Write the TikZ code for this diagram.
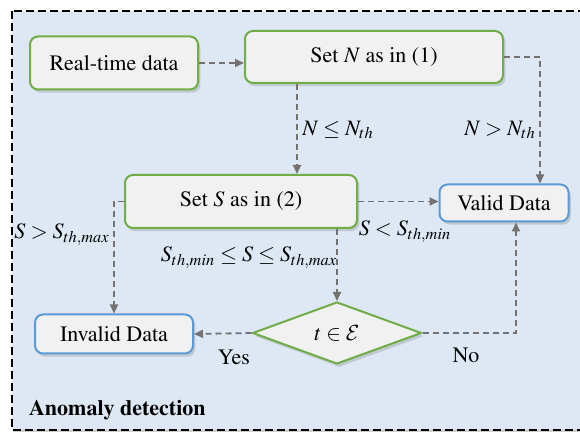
\documentclass[tikz,border=0pt]{standalone}
\usepackage[T1]{fontenc}
\usepackage{mathptmx}
\DeclareMathAlphabet{\mathcal}{OMS}{cmsy}{m}{n}
\usetikzlibrary{shapes.geometric,shadows,arrows.meta}
\definecolor{bgblue}{RGB}{221,232,244}
\definecolor{boxfill}{RGB}{241,241,241}
\definecolor{boxgreen}{RGB}{112,173,71}
\definecolor{boxblue}{RGB}{91,155,213}
\definecolor{flowgray}{RGB}{118,113,113}

\begin{document}
\begin{tikzpicture}[x=0.5pt,y=-0.5pt,
  font=\fontsize{11}{13}\selectfont,
  box/.style={draw=boxgreen, fill=boxfill, line width=1pt, rounded corners=4pt,
    drop shadow={opacity=0.3,shadow xshift=1.2pt,shadow yshift=-1.6pt}},
  databox/.style={box, draw=boxblue},
  flow/.style={draw=flowgray, line width=0.9pt, dash pattern=on 3pt off 2pt,
    -{Triangle[length=4.5pt,width=4pt]}}]
\useasboundingbox (0,0) rectangle (580,433);
\draw [fill=bgblue, line width=0.7pt, dash pattern=on 4pt off 2pt,
  drop shadow={opacity=0.4,shadow xshift=0.6pt,shadow yshift=-1.2pt}] (12,11) rectangle (600,430);

\node [box, minimum width=84pt, minimum height=26.5pt] (rt) at (114,63) {Real-time data};
\node [box, minimum width=129pt, minimum height=26pt] (setn) at (374,57) {Set $N$ as in (1)};
\node [box, minimum width=116pt, minimum height=26.5pt] (sets) at (241,201.5) {Set $S$ as in (2)};
\node [databox, minimum width=64.5pt, minimum height=18.5pt] (valid) at (504,203) {Valid Data};
\node [databox, minimum width=79pt, minimum height=19.5pt] (invalid) at (114,334) {Invalid Data};
\node [box, diamond, rounded corners=0pt, minimum width=84.5pt, minimum height=31pt, inner sep=0pt] (dec) at (337,333) {$t \in \mathcal{E}$};

\draw [flow] (rt.east) -- (setn.west |- rt.east);
\draw [flow] (setn.east) -| ([xshift=18pt]valid.north);
\draw [flow] ([xshift=-38.5pt]setn.south) -- ([xshift=-38.5pt]setn.south |- sets.north);
\draw [flow] (sets.east) -- (valid.west |- sets.east);
\draw [flow] (sets.west) -| (invalid.north);
\draw [flow] (sets.south -| dec.north) -- (dec.north);
\draw [flow] (dec.west) -- (invalid.east);
\draw [flow] (dec.east) -| ([xshift=6pt]valid.south);

\node (nle) at (338,130) {$N \le N_{th}$};
\node (ngt) at (500,130) {$N > N_{th}$};
\node (sgt) at (62,235) {$S > S_{th,max}$};
\node (sin) at (249,258) {$S_{th,min} \le S \le S_{th,max}$};
\node (slt) at (405,232) {$S < S_{th,min}$};
\node (yes) at (234,357) {Yes};
\node (no) at (466,355) {No};
\node [anchor=west, font=\fontsize{11}{13}\selectfont\bfseries] (title) at (22,410) {Anomaly detection};
\end{tikzpicture}
\end{document}
